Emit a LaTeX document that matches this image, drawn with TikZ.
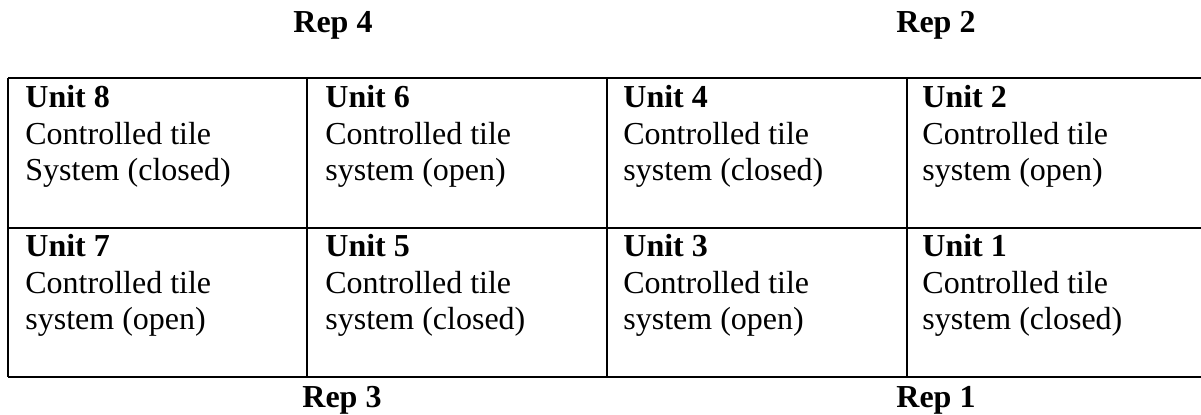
\documentclass[tikz,border=0pt]{standalone}
\usepackage{fontspec}
\setmainfont{Liberation Serif}

\tikzset{
  unit/.style={anchor=base west,inner sep=0pt,align=left,font=\fontsize{16}{18.25}\selectfont},
  rep/.style={anchor=base west,inner sep=0pt,font=\fontsize{16}{18}\selectfont\bfseries},
  rule/.style={line width=0.8pt}
}

\begin{document}
\begin{tikzpicture}[x=0.5pt,y=0.5pt,yscale=-1,xscale=1]
\useasboundingbox (0,0) rectangle (1201,415);

%Straight Lines (rows)
\draw [rule] (8,78) -- (1201,78) ;
\draw [rule] (8,228) -- (1201,228) ;
\draw [rule] (8,377) -- (1201,377) ;
%Straight Lines (columns)
\draw [rule] (8,78) -- (8,377) ;
\draw [rule] (307,78) -- (307,377) ;
\draw [rule] (607,78) -- (607,377) ;
\draw [rule] (907,78) -- (907,377) ;

% Text Node
\draw (293,33) node [rep] (rep4) {Rep 4};
% Text Node
\draw (896,33) node [rep] (rep2) {Rep 2};
% Text Node
\draw (302,408) node [rep] (rep3) {Rep 3};
% Text Node
\draw (896,408) node [rep] (rep1) {Rep 1};

% Text Node (anchored at the baseline of the last line)
\draw (25,181) node [unit] (u8) {\textbf{Unit 8}\\Controlled tile\\System (closed)};
% Text Node
\draw (325,181) node [unit] (u6) {\textbf{Unit 6}\\Controlled tile\\system (open)};
% Text Node
\draw (623,181) node [unit] (u4) {\textbf{Unit 4}\\Controlled tile\\system (closed)};
% Text Node
\draw (922,181) node [unit] (u2) {\textbf{Unit 2}\\Controlled tile\\system (open)};
% Text Node
\draw (25,330) node [unit] (u7) {\textbf{Unit 7}\\Controlled tile\\system (open)};
% Text Node
\draw (325,330) node [unit] (u5) {\textbf{Unit 5}\\Controlled tile\\system (closed)};
% Text Node
\draw (623,330) node [unit] (u3) {\textbf{Unit 3}\\Controlled tile\\system (open)};
% Text Node
\draw (922,330) node [unit] (u1) {\textbf{Unit 1}\\Controlled tile\\system (closed)};

\end{tikzpicture}
\end{document}
